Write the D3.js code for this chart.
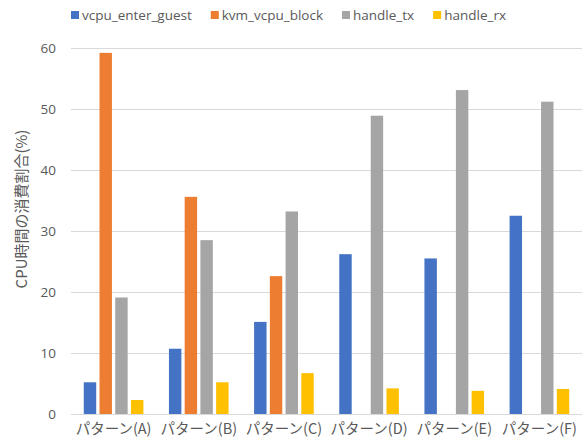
<!DOCTYPE html>
<html>
<head>
<meta charset="utf-8">
<script src="https://cdn.jsdelivr.net/npm/d3@7"></script>
<style>
  body { margin: 0; background: #fff; }
  svg text { font-family: "Noto Sans CJK JP", "Open Sans", sans-serif; fill: #595959; }
</style>
</head>
<body>
<div id="chart"></div>
<script>
// Chart data
const categories = ["パターン(A)", "パターン(B)", "パターン(C)", "パターン(D)", "パターン(E)", "パターン(F)"]
const seriesNames = ["vcpu_enter_guest", "kvm_vcpu_block", "handle_tx", "handle_rx"]
const vcpuEnterGuest = [5.2, 10.7, 15.1, 26.2, 25.5, 32.5]
const kvmVcpuBlock = [59.2, 35.6, 22.6, 0, 0, 0]
const handleTx = [19.1, 28.5, 33.2, 48.9, 53.1, 51.2]
const handleRx = [2.3, 5.2, 6.7, 4.2, 3.8, 4.1]
const yTicks = [0, 10, 20, 30, 40, 50, 60]
const colors = ["#4472C4", "#ED7D31", "#A5A5A5", "#FFC000"]

const seriesValues = [vcpuEnterGuest, kvmVcpuBlock, handleTx, handleRx]
const table = categories.map((c, i) => ({
  cat: c,
  values: seriesNames.map((s, j) => ({ key: s, value: seriesValues[j][i] }))
}))

const w = 586
const h = 446
const margin = { top: 48, right: 4, bottom: 32, left: 71 }

const svg = d3.select("#chart")
  .append("svg")
  .attr("width", w)
  .attr("height", h)

const yScale = d3.scaleLinear()
  .domain([0, 60])
  .range([h - margin.bottom, margin.top])

const x0 = d3.scaleBand()
  .domain(categories)
  .range([margin.left, w - margin.right])
  .paddingInner(0.3)
  .paddingOuter(0.15)

const x1 = d3.scaleBand()
  .domain(seriesNames)
  .range([0, x0.bandwidth()])
  .paddingInner(0.21)

const color = d3.scaleOrdinal().domain(seriesNames).range(colors)

// gridlines
svg.append("g")
  .selectAll("line")
  .data(yTicks)
  .enter()
  .append("line")
    .attr("x1", margin.left)
    .attr("x2", w - margin.right)
    .attr("y1", d => Math.round(yScale(d)) + 0.5)
    .attr("y2", d => Math.round(yScale(d)) + 0.5)
    .attr("stroke", "#D9D9D9")
    .attr("stroke-width", 1)

// y axis labels
const yAxis = d3.axisLeft(yScale).tickValues(yTicks).tickSize(0).tickPadding(0)
svg.append("g")
  .attr("transform", `translate(${margin.left - 15}, 0)`)
  .call(yAxis)
  .call(g => g.select(".domain").remove())
  .selectAll("text")
    .style("font-size", "13.5px")
    .style("font-family", "'Open Sans', sans-serif")
    .attr("fill", "#595959")

// bars
svg.append("g")
  .selectAll("g")
  .data(table)
  .enter()
  .append("g")
    .attr("transform", d => `translate(${x0(d.cat)}, 0)`)
  .selectAll("rect")
  .data(d => d.values)
  .enter()
  .append("rect")
    .attr("x", d => x1(d.key))
    .attr("y", d => yScale(d.value))
    .attr("width", x1.bandwidth())
    .attr("height", d => yScale(0) - yScale(d.value))
    .attr("fill", d => color(d.key))

// x axis
const xAxis = d3.axisBottom(x0).tickSize(0).tickPadding(10)
svg.append("g")
  .attr("transform", `translate(0, ${yScale(0)})`)
  .call(xAxis)
  .call(g => g.select(".domain").remove())
  .selectAll("text")
    .style("font-size", "14.5px")
    .attr("fill", "#595959")

// y axis title
svg.append("text")
  .attr("transform", "rotate(-90)")
  .attr("x", -209)
  .attr("y", 27)
  .style("text-anchor", "middle")
  .style("font-size", "15px")
  .text("CPU時間の消費割合(%)")

// legend
const legend = svg.append("g").attr("transform", "translate(71, 15)")
let lx = 0
seriesNames.forEach((s, i) => {
  const item = legend.append("g").attr("transform", `translate(${lx}, 0)`)
  item.append("rect")
    .attr("x", 0)
    .attr("y", -4)
    .attr("width", 8)
    .attr("height", 8)
    .attr("fill", colors[i])
  const t = item.append("text")
    .attr("x", 11)
    .attr("y", 5)
    .style("font-size", "13.5px")
    .style("font-family", "'Open Sans', sans-serif")
    .text(s)
  lx += 11 + t.node().getComputedTextLength() + 19
})
</script>
</body>
</html>
